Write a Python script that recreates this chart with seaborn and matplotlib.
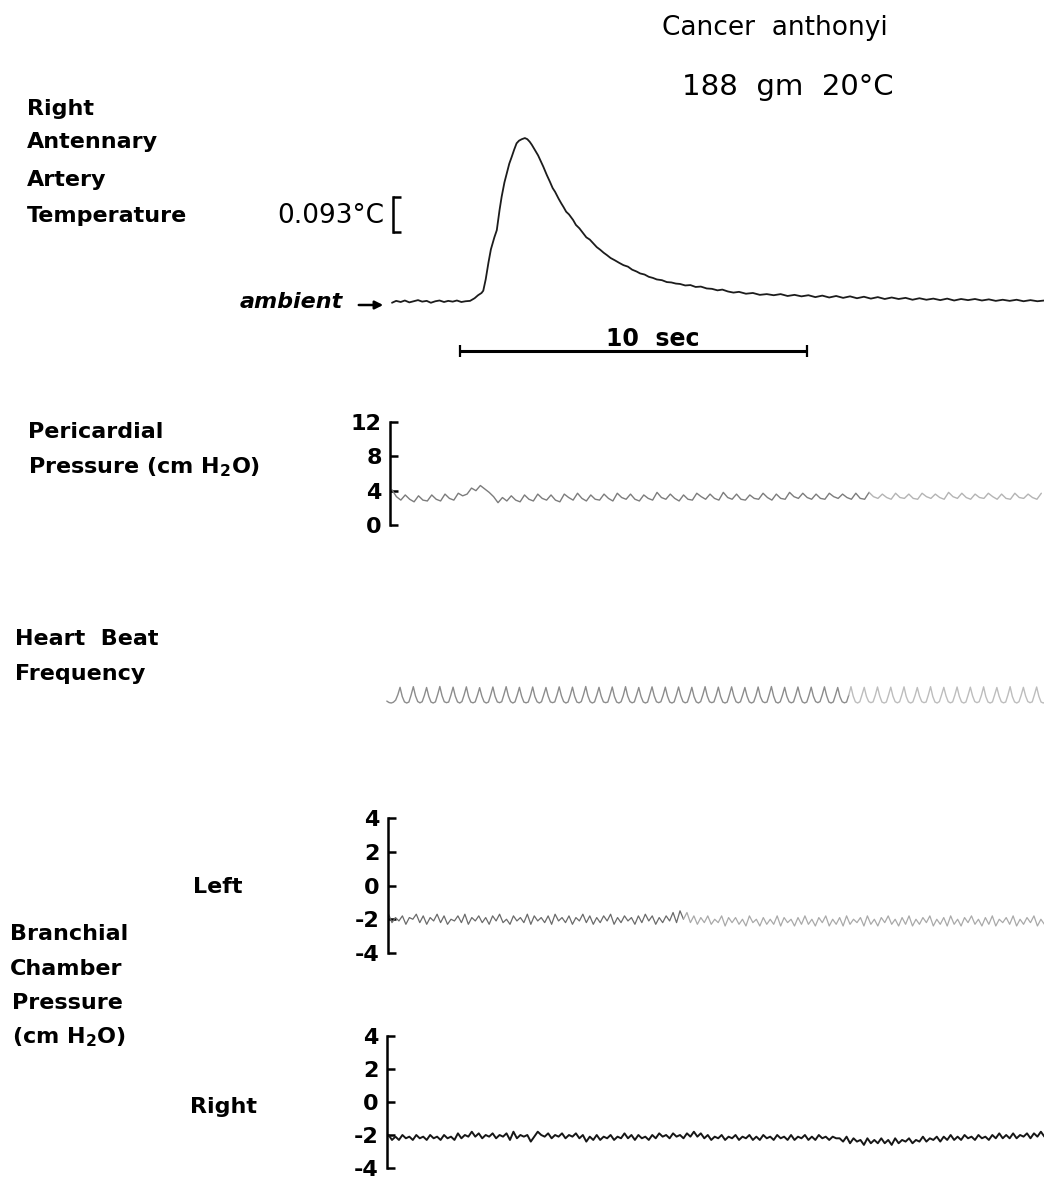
import numpy as np
import matplotlib
matplotlib.use("Agg")
import matplotlib.pyplot as plt
from matplotlib.patches import FancyArrowPatch
import seaborn as sns

# ------------------------------------------------------------------ data
TITLE = "Cancer  anthonyi"
SUBTITLE = "188  gm  20°C"

# right antennary artery temperature (seconds, degC above ambient)
TEMP_T = [
    0.00, 0.12, 0.25, 0.37, 0.50, 0.62, 0.75, 0.87, 1.00, 1.12,
    1.25, 1.37, 1.50, 1.62, 1.75, 1.87, 2.00, 2.12, 2.25, 2.38,
    2.48, 2.58, 2.63, 2.70, 2.78, 2.85, 2.95, 3.02, 3.10, 3.16,
    3.24, 3.31, 3.38, 3.45, 3.52, 3.59, 3.66, 3.74, 3.83, 3.90,
    3.97, 4.03, 4.10, 4.15, 4.21, 4.27, 4.36, 4.46, 4.55, 4.63,
    4.70, 4.80, 4.88, 4.94, 5.02, 5.10, 5.22, 5.30, 5.40, 5.51,
    5.60, 5.70, 5.80, 5.90, 6.00, 6.10, 6.19, 6.30, 6.42, 6.55,
    6.67, 6.80, 6.92, 7.05, 7.15, 7.28, 7.40, 7.52, 7.63, 7.78,
    7.92, 8.05, 8.18, 8.30, 8.45, 8.60, 8.75, 8.90, 9.07, 9.22,
    9.38, 9.52, 9.68, 9.84, 10.0, 10.2, 10.4, 10.6, 10.8, 11.0,
    11.2, 11.4, 11.6, 11.8, 12.0, 12.2, 12.4, 12.6, 12.8, 13.0,
    13.2, 13.4, 13.6, 13.8, 14.0, 14.2, 14.4, 14.6, 14.8, 15.0,
    15.2, 15.4, 15.6, 15.8, 16.0, 16.2, 16.4, 16.6, 16.8, 17.0,
    17.2, 17.4, 17.6, 17.8, 18.0, 18.2, 18.4, 18.6, 18.8,
]
TEMP_C = [
    -0.002, 0.003, 0.000, 0.004, -0.001, 0.002, 0.005, 0.001, 0.003, -0.002,
    0.002, 0.004, 0.000, 0.003, 0.001, 0.004, 0.000, 0.002, 0.003, 0.010,
    0.018, 0.024, 0.030, 0.060, 0.105, 0.140, 0.172, 0.191, 0.245, 0.280,
    0.318, 0.343, 0.368, 0.386, 0.405, 0.422, 0.429, 0.433, 0.436, 0.433,
    0.426, 0.418, 0.407, 0.399, 0.390, 0.378, 0.360, 0.338, 0.320, 0.303,
    0.293, 0.275, 0.262, 0.253, 0.240, 0.233, 0.218, 0.205, 0.196, 0.183,
    0.172, 0.166, 0.156, 0.146, 0.139, 0.131, 0.125, 0.117, 0.111, 0.104,
    0.098, 0.094, 0.086, 0.081, 0.076, 0.073, 0.067, 0.064, 0.060, 0.058,
    0.053, 0.052, 0.049, 0.048, 0.044, 0.045, 0.040, 0.041, 0.036, 0.035,
    0.031, 0.033, 0.028, 0.025, 0.027, 0.022, 0.024, 0.019, 0.021, 0.018,
    0.021, 0.016, 0.019, 0.015, 0.018, 0.013, 0.017, 0.012, 0.016, 0.011,
    0.015, 0.010, 0.014, 0.009, 0.013, 0.008, 0.012, 0.008, 0.011, 0.006,
    0.010, 0.006, 0.009, 0.005, 0.009, 0.004, 0.008, 0.005, 0.008, 0.004,
    0.007, 0.003, 0.006, 0.003, 0.006, 0.002, 0.005, 0.002, 0.004,
]
TEMP_SCALE_C = 0.093        # calibration bracket
TEMP_SCALE_BASE = 0.186
TIME_BAR_SEC = 10
TIME_BAR_START = 1.95

# pericardial pressure (cm H2O), sampled every PERI_DT s
PERI_T0, PERI_DT = 0.0, 0.1273
PERI_P = [
    4.1, 3.3, 2.9, 3.5, 3.0, 2.7, 3.4, 2.9, 2.8, 3.5, 3.0, 2.8, 3.6, 3.1, 2.9,
    3.7, 3.4, 3.6, 4.3, 4.0, 4.6, 4.2, 3.8, 3.3, 2.6, 3.2, 2.8, 3.4, 2.9, 2.7,
    3.5, 3.0, 2.8, 3.6, 3.1, 2.9, 3.5, 2.9, 2.7, 3.6, 3.2, 2.9, 3.7, 3.1, 2.8,
    3.5, 3.0, 2.9, 3.6, 3.1, 2.8, 3.7, 3.2, 3.0, 3.6, 3.0, 2.8, 3.5, 3.1, 2.9,
    3.8, 3.2, 3.0, 3.6, 3.1, 2.8, 3.5, 3.0, 2.9, 3.7, 3.3, 3.0, 3.6, 3.1, 2.9,
    3.8, 3.2, 3.0, 3.6, 3.0, 2.9, 3.5, 3.1, 3.0, 3.7, 3.2, 2.9, 3.6, 3.1, 3.0,
    3.8, 3.3, 3.1, 3.7, 3.2, 3.0, 3.6, 3.1, 3.0, 3.7, 3.3, 3.1, 3.6, 3.2, 3.0,
    3.7, 3.1, 3.0, 3.8, 3.3, 3.1, 3.6, 3.2, 3.0, 3.7, 3.2, 3.1, 3.6, 3.1, 3.0,
    3.7, 3.3, 3.1, 3.6, 3.2, 3.0, 3.8, 3.3, 3.1, 3.7, 3.2, 3.0, 3.6, 3.2, 3.1,
    3.7, 3.3, 3.0, 3.6, 3.1, 3.0, 3.7, 3.2, 3.1, 3.6, 3.2, 3.0, 3.7,
]
PERI_TICKS = [0, 4, 8, 12]
PERI_LABELS = ["0", "4", "8", "12"]

# heart beat (pen deflection, arbitrary units), sampled every HEART_DT s
HEART_T0, HEART_DT = -0.15, 0.0637
HEART = [
    0.12, 0.03, 0.00, 0.05, 0.18, 0.52,
    0.98, 0.40, 0.07, 0.00, 0.06, 0.50,  1.02, 0.44, 0.09, 0.01, 0.08, 0.47,
    0.97, 0.41, 0.06, 0.00, 0.07, 0.52,  1.03, 0.45, 0.08, 0.02, 0.06, 0.49,
    0.99, 0.42, 0.07, 0.00, 0.09, 0.51,  1.01, 0.40, 0.06, 0.01, 0.07, 0.48,
    0.96, 0.43, 0.08, 0.00, 0.06, 0.50,  1.00, 0.41, 0.07, 0.02, 0.08, 0.53,
    1.02, 0.44, 0.09, 0.00, 0.07, 0.49,  0.98, 0.42, 0.06, 0.01, 0.06, 0.47,
    1.00, 0.40, 0.08, 0.00, 0.08, 0.51,  0.97, 0.43, 0.07, 0.02, 0.07, 0.50,
    1.01, 0.45, 0.09, 0.00, 0.06, 0.48,  0.99, 0.41, 0.06, 0.01, 0.09, 0.52,
    1.03, 0.44, 0.08, 0.00, 0.07, 0.49,  0.98, 0.42, 0.07, 0.02, 0.06, 0.51,
    1.00, 0.40, 0.06, 0.00, 0.08, 0.47,  1.02, 0.43, 0.09, 0.01, 0.07, 0.50,
    0.97, 0.41, 0.07, 0.00, 0.06, 0.53,  1.01, 0.44, 0.08, 0.02, 0.08, 0.48,
    0.99, 0.42, 0.06, 0.00, 0.07, 0.50,  1.00, 0.45, 0.09, 0.01, 0.06, 0.49,
    0.98, 0.40, 0.07, 0.00, 0.09, 0.52,  1.02, 0.43, 0.08, 0.02, 0.07, 0.48,
    0.99, 0.41, 0.06, 0.00, 0.06, 0.51,  1.01, 0.44, 0.08, 0.01, 0.08, 0.50,
    0.97, 0.42, 0.07, 0.00, 0.07, 0.47,  1.00, 0.40, 0.09, 0.02, 0.06, 0.52,
    1.03, 0.43, 0.06, 0.00, 0.08, 0.49,  0.98, 0.41, 0.08, 0.01, 0.07, 0.50,
    1.00, 0.44, 0.07, 0.00, 0.06, 0.48,  0.99, 0.42, 0.09, 0.02, 0.09, 0.51,
    1.01, 0.45, 0.06, 0.00, 0.07, 0.50,  0.97, 0.40, 0.08, 0.01, 0.06, 0.49,
    1.02, 0.43, 0.07, 0.00, 0.08, 0.52,  0.98, 0.41, 0.09, 0.02, 0.07, 0.48,
    1.00, 0.44, 0.06, 0.00, 0.06, 0.50,  0.99, 0.42, 0.08, 0.01, 0.08, 0.51,
    1.01, 0.40, 0.07, 0.00, 0.07, 0.47,  0.97, 0.43, 0.09, 0.02, 0.06, 0.50,
    1.02, 0.41, 0.06, 0.00, 0.09, 0.52,  0.98, 0.44, 0.08, 0.01, 0.07, 0.49,
    1.00, 0.42, 0.07, 0.00, 0.06, 0.50,  0.99, 0.45, 0.09, 0.02, 0.08, 0.48,
    1.01, 0.40, 0.06, 0.00, 0.07, 0.51,  0.97, 0.43, 0.08, 0.01, 0.06, 0.50,
    1.02, 0.41, 0.07, 0.00, 0.08, 0.49,  0.98, 0.44, 0.09, 0.02, 0.07, 0.52,
    1.00, 0.42, 0.06, 0.00, 0.06, 0.48,
]

# branchial chamber pressure (cm H2O), sampled every BR_DT s
BR_T0, BR_DT = -0.1, 0.1
BR_LEFT = [
    -1.7, -2.2, -1.9, -2.1, -1.8, -2.3, -1.9, -2.0, -1.7, -2.2,
    -1.8, -2.3, -1.9, -2.1, -1.7, -2.2, -1.8, -2.3, -2.0, -2.1,
    -1.8, -2.2, -1.7, -2.3, -1.9, -2.1, -1.8, -2.2, -1.9, -2.3,
    -1.8, -2.1, -1.7, -2.2, -2.0, -2.3, -1.8, -2.1, -1.9, -2.2,
    -1.7, -2.3, -1.8, -2.1, -1.9, -2.2, -1.8, -2.3, -1.7, -2.1,
    -1.9, -2.2, -1.8, -2.3, -1.9, -2.1, -1.7, -2.2, -1.8, -2.3,
    -1.9, -2.2, -1.8, -2.1, -1.7, -2.3, -1.9, -2.2, -1.8, -2.1,
    -1.9, -2.3, -1.8, -2.2, -1.7, -2.1, -1.8, -2.3, -1.9, -2.2,
    -1.8, -2.1, -1.6, -2.2, -1.5, -2.0, -1.6, -2.2, -1.8, -2.3,
    -1.9, -2.2, -1.8, -2.3, -2.0, -2.2, -1.8, -2.4, -1.9, -2.2,
    -1.9, -2.3, -2.0, -2.4, -1.8, -2.2, -2.0, -2.4, -1.9, -2.3,
    -2.0, -2.3, -1.8, -2.4, -1.9, -2.2, -2.0, -2.4, -1.9, -2.3,
    -1.8, -2.3, -2.0, -2.4, -1.9, -2.2, -1.8, -2.4, -2.0, -2.3,
    -1.9, -2.4, -1.8, -2.3, -2.0, -2.2, -1.9, -2.4, -1.8, -2.3,
    -2.0, -2.4, -1.9, -2.2, -1.8, -2.3, -2.0, -2.4, -1.9, -2.3,
    -1.8, -2.4, -2.0, -2.3, -1.9, -2.2, -1.8, -2.4, -2.0, -2.3,
    -1.9, -2.4, -1.8, -2.3, -2.0, -2.4, -1.9, -2.2, -1.8, -2.3,
    -2.0, -2.4, -1.9, -2.3, -1.8, -2.4, -2.0, -2.2, -1.9, -2.3,
    -1.8, -2.4, -2.0, -2.3, -1.9, -2.2, -1.8, -2.4, -2.0, -2.3,
]
BR_RIGHT = [
    -2.0, -2.3, -2.1, -2.3, -2.0, -2.2, -2.1, -2.3, -2.0, -2.2,
    -2.1, -2.3, -2.0, -2.2, -2.1, -2.3, -2.0, -2.2, -2.1, -2.3,
    -1.9, -2.2, -2.0, -2.1, -1.8, -2.1, -1.9, -2.2, -2.0, -2.1,
    -1.9, -2.2, -2.0, -2.1, -1.9, -2.3, -1.8, -2.2, -2.0, -2.1,
    -2.0, -2.4, -2.1, -1.8, -2.0, -2.1, -1.9, -2.2, -2.0, -2.1,
    -1.9, -2.2, -2.0, -2.1, -1.9, -2.2, -2.0, -2.4, -2.1, -2.3,
    -2.0, -2.3, -2.1, -2.2, -2.0, -2.3, -2.1, -2.2, -1.9, -2.2,
    -2.0, -2.3, -2.0, -2.2, -2.1, -2.3, -2.0, -2.2, -1.9, -2.1,
    -2.0, -2.2, -1.9, -2.1, -2.0, -2.2, -1.9, -2.1, -1.8, -2.1,
    -1.9, -2.2, -2.0, -2.3, -2.1, -2.2, -2.0, -2.3, -2.1, -2.2,
    -2.0, -2.3, -2.1, -2.2, -2.0, -2.3, -2.1, -2.3, -2.0, -2.2,
    -2.1, -2.3, -2.0, -2.2, -2.1, -2.3, -2.0, -2.3, -2.1, -2.2,
    -2.0, -2.3, -2.1, -2.3, -2.0, -2.2, -2.1, -2.3, -2.1, -2.2,
    -2.2, -2.4, -2.1, -2.5, -2.2, -2.4, -2.3, -2.6, -2.2, -2.5,
    -2.3, -2.5, -2.2, -2.5, -2.3, -2.6, -2.2, -2.5, -2.3, -2.4,
    -2.2, -2.5, -2.3, -2.4, -2.1, -2.4, -2.2, -2.3, -2.1, -2.4,
    -2.1, -2.3, -2.0, -2.3, -2.1, -2.3, -2.0, -2.2, -2.1, -2.3,
    -2.0, -2.2, -2.1, -2.3, -2.0, -2.2, -1.9, -2.2, -2.0, -2.2,
    -1.9, -2.2, -2.0, -2.1, -1.9, -2.2, -1.9, -2.1, -1.8, -2.1,
]
BR_TICKS = [-4, -2, 0, 2, 4]
BR_LABELS = ["-4", "-2", "0", "2", "4"]

# ------------------------------------------------------------------ layout
W, H = 1044, 1182
PX_PER_SEC = 34.7
X_T0_PX = 392
X_LEFT_PX = 378

sns.set_theme(style="white")
plt.rcParams["font.family"] = ["DejaVu Sans"]
plt.rcParams["mathtext.default"] = "regular"
plt.rcParams["axes.unicode_minus"] = False

fig = plt.figure(figsize=(W / 100, H / 100), dpi=100)
fig.patch.set_facecolor("white")


def t_of(px):
    return (px - X_T0_PX) / PX_PER_SEC


def panel(top, bot, va, pa, vb, pb):
    ax = fig.add_axes([X_LEFT_PX / W, 1 - bot / H, (W - X_LEFT_PX) / W, (bot - top) / H])
    ax.set_facecolor("none")
    for s in ax.spines.values():
        s.set_visible(False)
    ppu = (pa - pb) / (vb - va)
    lims = (va - (bot - pa) / ppu, va + (pa - top) / ppu)
    return ax, lims


def finish(ax, lims):
    ax.set_xlim(t_of(X_LEFT_PX), t_of(W))
    ax.set_ylim(*lims)
    ax.set_xticks([])
    ax.set_xlabel("")
    ax.set_ylabel("")


def scale_spine(ax, x_px, lo, hi, ticks, labels):
    sp = ax.spines["left"]
    sp.set_visible(True)
    sp.set_position(("data", t_of(x_px)))
    sp.set_bounds(lo, hi)
    sp.set_linewidth(1.8)
    sp.set_color("black")
    ax.set_yticks(ticks)
    ax.set_yticklabels(labels)
    ax.tick_params(axis="y", left=True, direction="in", length=5.5, width=1.8,
                   pad=6, labelsize=16, colors="black")
    for lab in ax.get_yticklabels():
        lab.set_fontweight("bold")


def trace(ax, t, v, split, c1, c2, lw):
    t = np.asarray(t)
    v = np.asarray(v)
    sns.lineplot(x=t[:split + 1], y=v[:split + 1], ax=ax, color=c1, linewidth=lw,
                 estimator=None, sort=False)
    if split < len(t) - 1:
        sns.lineplot(x=t[split:], y=v[split:], ax=ax, color=c2, linewidth=lw,
                     estimator=None, sort=False)


def ftext(x, y, s, **kw):
    kw.setdefault("va", "baseline")
    kw.setdefault("ha", "left")
    kw.setdefault("color", "black")
    fig.text(x / W, 1 - y / H, s, **kw)


# ---- temperature panel
ax_t, lim_t = panel(90, 365, 0.0, 302, TEMP_SCALE_C, 302 - TEMP_SCALE_C * 376)
trace(ax_t, TEMP_T, TEMP_C, len(TEMP_T) - 1, "#1c1c1c", "#1c1c1c", 1.3)
finish(ax_t, lim_t)
scale_spine(ax_t, 393, TEMP_SCALE_BASE, TEMP_SCALE_BASE + TEMP_SCALE_C,
            [TEMP_SCALE_BASE, TEMP_SCALE_BASE + TEMP_SCALE_C], ["", ""])
bar_y = (365 - 351) / (365 - 90)
ax_t.plot([TIME_BAR_START, TIME_BAR_START + TIME_BAR_SEC], [bar_y, bar_y],
          transform=ax_t.get_xaxis_transform(), color="black", lw=2.2,
          solid_capstyle="butt", clip_on=False)
ax_t.plot([TIME_BAR_START, TIME_BAR_START + TIME_BAR_SEC], [bar_y, bar_y],
          transform=ax_t.get_xaxis_transform(), color="black", ls="none",
          marker="|", ms=8, mew=1.6, clip_on=False)

# ---- pericardial panel
ax_p, lim_p = panel(405, 545, 0, 525, 12, 422)
peri_t = PERI_T0 + PERI_DT * np.arange(len(PERI_P))
trace(ax_p, peri_t, PERI_P, 108, "#7c7c7c", "#b4b4b4", 1.0)
finish(ax_p, lim_p)
scale_spine(ax_p, 390, 0, 12, PERI_TICKS, PERI_LABELS)

# ---- heart beat panel
ax_h, lim_h = panel(665, 715, 0, 703, 1, 687)
heart_t = HEART_T0 + HEART_DT * np.arange(len(HEART))
trace(ax_h, heart_t, HEART, 209, "#8c8c8c", "#bdbdbd", 1.0)
finish(ax_h, lim_h)
ax_h.set_yticks([])

# ---- branchial left
ax_l, lim_l = panel(800, 975, -4, 953, 4, 818)
br_t = BR_T0 + BR_DT * np.arange(len(BR_LEFT))
trace(ax_l, br_t, BR_LEFT, 85, "#6a6a6a", "#a9a9a9", 0.9)
finish(ax_l, lim_l)
scale_spine(ax_l, 388, -4, 4, BR_TICKS, BR_LABELS)

# ---- branchial right
ax_r, lim_r = panel(1020, 1182, -4, 1168, 4, 1036)
br_t2 = BR_T0 + BR_DT * np.arange(len(BR_RIGHT))
trace(ax_r, br_t2, BR_RIGHT, len(BR_RIGHT) - 1, "#161616", "#161616", 1.4)
finish(ax_r, lim_r)
scale_spine(ax_r, 387, -4, 4, BR_TICKS, BR_LABELS)

# ------------------------------------------------------------------ texts
ftext(775, 35, TITLE, ha="center", fontsize=19)
ftext(788, 95, SUBTITLE, ha="center", fontsize=21)

LBL = dict(fontsize=16, fontweight="bold")
ftext(27, 115, "Right", **LBL)
ftext(27, 148, "Antennary", **LBL)
ftext(27, 186, "Artery", **LBL)
ftext(27, 222, "Temperature", **LBL)
ftext(384, 223, "0.093°C", ha="right", fontsize=19)
ftext(343, 308, "ambient", ha="right", fontsize=16, fontweight="bold", style="italic")
fig.add_artist(FancyArrowPatch((356 / W, 1 - 305 / H), (386 / W, 1 - 305 / H),
                               transform=fig.transFigure, arrowstyle="-|>",
                               mutation_scale=12, lw=1.8, color="black"))
ftext(653, 346, "10  sec", ha="center", fontsize=17, fontweight="bold")

ftext(28, 438, "Pericardial", **LBL)
ftext(28, 473, "Pressure (cm H$_2$O)", **LBL)

ftext(15, 645, "Heart  Beat", **LBL)
ftext(15, 680, "Frequency", **LBL)

ftext(193, 893, "Left", **LBL)
ftext(10, 940, "Branchial", **LBL)
ftext(10, 975, "Chamber", **LBL)
ftext(12, 1009, "Pressure", **LBL)
ftext(12, 1043, "(cm H$_2$O)", **LBL)
ftext(190, 1113, "Right", **LBL)

fig.savefig("out.png", dpi=100, facecolor="white")
